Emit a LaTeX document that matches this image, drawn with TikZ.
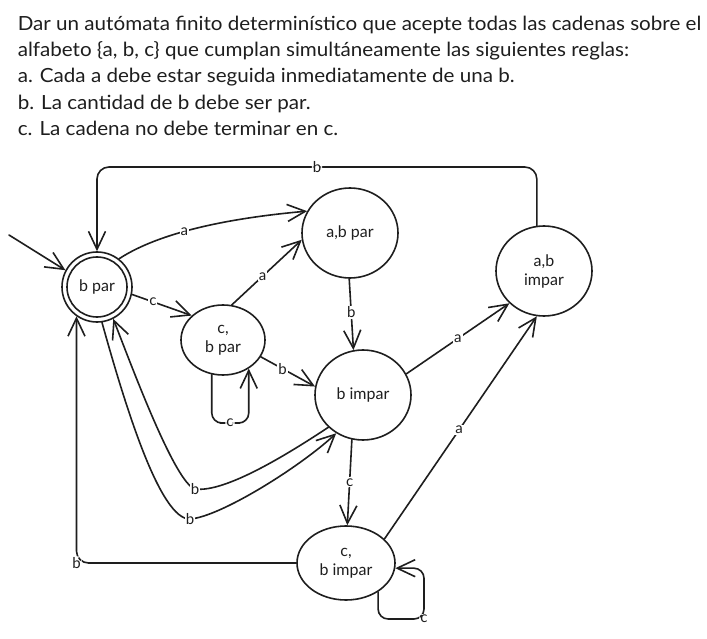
\documentclass[tikz,border=0pt]{standalone}
\usepackage{fontspec}
\setmainfont{Lato}
\newfontfamily\headfont{Lato}[FakeStretch=1.057]
\usetikzlibrary{shapes.geometric, arrows.meta}
\definecolor{ink}{HTML}{1E1E1E}
\begin{document}
\begin{tikzpicture}[x=1pt,y=-1pt,
  line width=1.6pt, draw=ink, text=ink, line cap=round, line join=round,
  st/.style={ellipse, draw, inner sep=0pt, align=center, font=\fontsize{16}{19}\selectfont},
  arr/.style={-{Straight Barb[length=18pt,width=17pt]}},
  lbl/.style={fill=white, inner sep=1pt, font=\fontsize{15}{15}\selectfont},
  headline/.style={anchor=base west, inner sep=0pt, font=\headfont\fontsize{19.5}{26}\selectfont},
]
\fill[white] (0,0) rectangle (707,639);
\useasboundingbox (0,0) rectangle (707,639);

\node[headline] (h1) at (17,30.5) {Dar un autómata finito determinístico que acepte todas las cadenas sobre el};
\node[headline] (h2) at (17,56.5) {alfabeto \{a, b, c\} que cumplan simultáneamente las siguientes reglas:};
\node[headline] (h3) at (17,83) {a. Cada a debe estar seguida inmediatamente de una b.};
\node[headline] (h4) at (17,109.5) {b. La cantidad de b debe ser par.};
\node[headline] (h5) at (17,136) {c. La cadena no debe terminar en c.};

\node[circle, draw, minimum size=70pt, inner sep=0, font=\fontsize{16}{19}\selectfont] (bpar) at (97,287) {b par};
\draw (bpar.center) circle[radius=30pt];
\node[st, minimum width=96pt, minimum height=90pt] (abpar) at (350,233) {a,b par};
\node[st, minimum width=96pt, minimum height=90pt] (abimpar) at (544,271) {a,b\\impar};
\node[st, minimum width=84pt, minimum height=70pt] (cbpar) at (223,340) {c,\\b par};
\node[st, minimum width=96pt, minimum height=90pt] (bimpar) at (363,395) {b impar};
\node[st, minimum width=98pt, minimum height=74pt] (cbimpar) at (346,563) {c,\\b impar};

\coordinate (start) at (9,235);
\draw[arr] (start) -- (bpar.152);

\draw[arr] (bpar.52) .. controls (160,232) and (230,218) .. node[lbl,pos=0.42]{a} (abpar.153);
\draw[arr] (bpar.-12) -- node[lbl,pos=0.35]{c} (cbpar.142);
\draw[arr] (cbpar.76) -- node[lbl,pos=0.44]{a} (abpar.-172);
\draw[arr] (abpar.-91) -- node[lbl,pos=0.47]{b} (bimpar.102);
\draw[arr] (cbpar.-24) -- node[lbl,pos=0.4]{b} (bimpar.170);
\draw[arr] (bimpar.26) -- node[lbl,pos=0.5]{a} (abimpar.-137);
\draw[arr] (cbimpar.32) -- node[lbl,pos=0.49]{a} (abimpar.-99);
\draw[arr] (bimpar.-104) -- node[lbl,pos=0.5]{c} (cbimpar.88);

\draw[arr, rounded corners=12pt] (abimpar.99) |- (317,167) node[lbl]{b} -| (bpar.90);
\draw[arr, rounded corners=12pt] (cbimpar.180) -| node[lbl,pos=0.5]{b} (bpar.-125);

\draw[arr, rounded corners=10pt] (cbpar.-108) |- (230,423) node[lbl]{c} -| (cbpar.-48);
\draw[arr, rounded corners=10pt] (cbimpar.-42) |- (424,619) node[lbl]{c} |- (cbimpar.-6);

\draw[arr] (bpar.-82) .. controls (125,405) and (160,520) .. (190,519) node[lbl]{b}
  .. controls (220,517) and (300,467) .. (bimpar.-125);
\draw[arr] (bimpar.-137) .. controls (288,454) and (225,493) .. (195,489) node[lbl]{b}
  .. controls (175,483) and (132,367) .. (bpar.-63);
\end{tikzpicture}
\end{document}
